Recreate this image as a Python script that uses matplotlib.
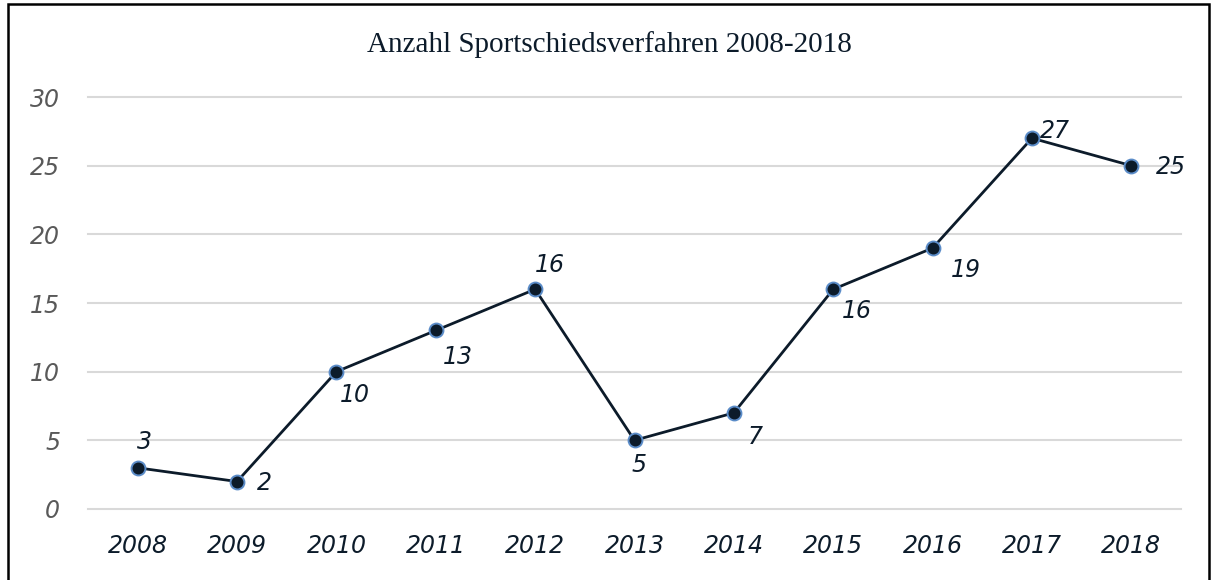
import matplotlib.pyplot as plt
from matplotlib.patches import Rectangle

years = ['2008', '2009', '2010', '2011', '2012', '2013', '2014', '2015', '2016', '2017', '2018']
counts = [3, 2, 10, 13, 16, 5, 7, 16, 19, 27, 25]
# label offsets in pixels relative to each point
label_dx = [7, 27, 18, 22, 15, 5, 21, 24, 33, 23, 40]
label_dy = [26, -1, -23, -27, 24, -25, -24, -22, -22, 7, -1]

dark = '#0c1b2a'

fig = plt.figure(figsize=(12.13, 5.80), dpi=100)
ax = fig.add_axes([88/1213, 1-509/580, (1181-88)/1213, (509-97)/580])

x = list(range(len(years)))
ax.plot(x, counts, color=dark, lw=2, marker='o', ms=10,
        mfc=dark, mec='#5b8cc8', mew=1.4, zorder=3)

for i, v in enumerate(counts):
    ax.annotate(str(v), (x[i], v), xytext=(label_dx[i], label_dy[i]),
                textcoords='offset pixels', ha='center', va='center',
                fontsize=17, style='italic', color=dark)

ax.set_xlim(-0.5, len(years) - 0.5)
ax.set_ylim(0, 30)
ax.set_yticks([0, 5, 10, 15, 20, 25, 30])
ax.set_xticks(x)
ax.set_xticklabels(years)
ax.tick_params(axis='x', length=0, pad=18, labelsize=17, labelcolor=dark)
ax.tick_params(axis='y', length=0, pad=20, labelsize=17, labelcolor='#595959')
for lab in ax.get_xticklabels() + ax.get_yticklabels():
    lab.set_fontstyle('italic')

ax.grid(axis='y', color='#d9d9d9', lw=1.5)
for gl in ax.get_ygridlines():
    gl.set_clip_on(False)
ax.set_axisbelow(True)
for s in ax.spines.values():
    s.set_visible(False)

fig.text(609/1213, 1-45/580, 'Anzahl Sportschiedsverfahren 2008-2018',
         ha='center', va='center', fontsize=21, family='Liberation Serif', color=dark)

fig.patches.append(Rectangle((8/1213, -0.02), (1209-8)/1213, (580-4)/580 + 0.02,
                             transform=fig.transFigure, fill=False, ec='black', lw=1.8))

fig.savefig('out.png', dpi=100)
